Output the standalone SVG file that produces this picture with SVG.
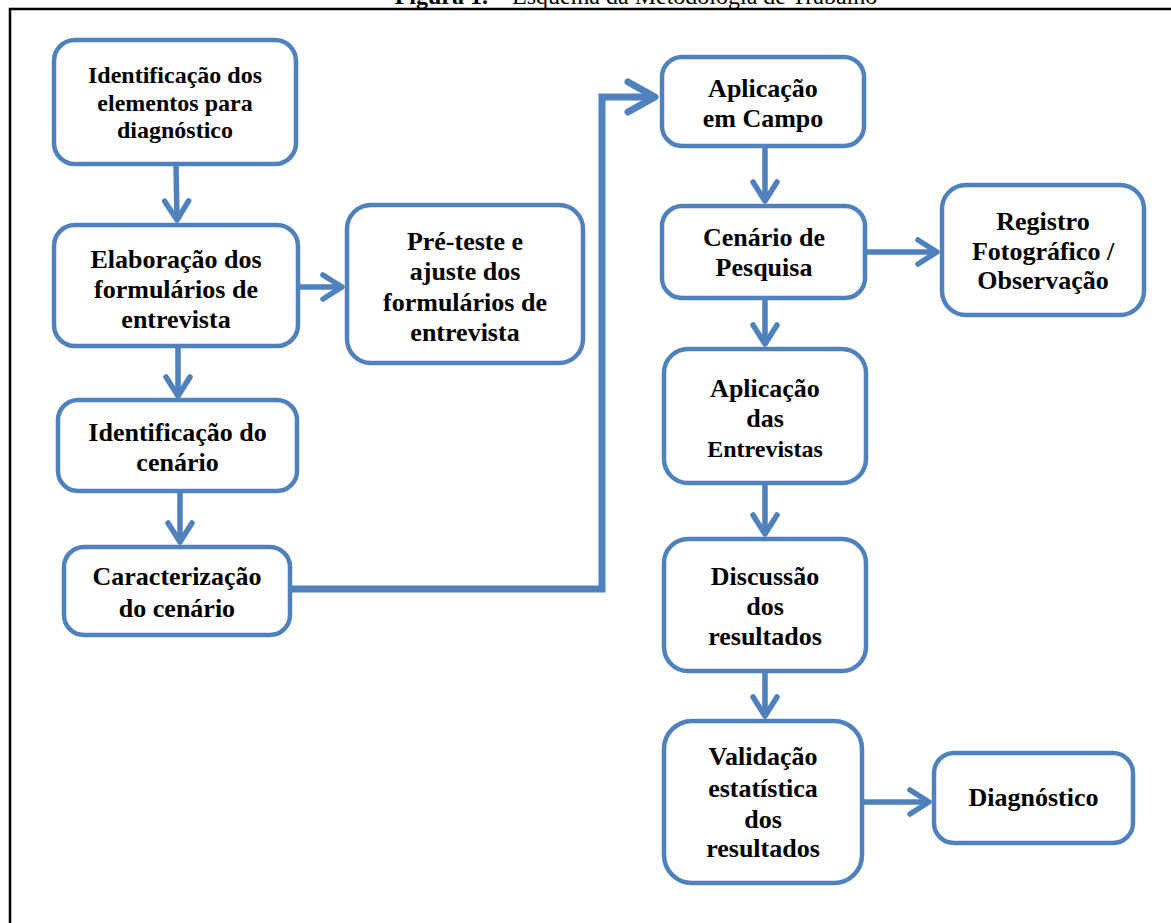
<svg xmlns="http://www.w3.org/2000/svg" width="1171" height="923" viewBox="0 0 1171 923">
<defs>
<style>
.box{fill:#fff;stroke:#4F81BD;stroke-width:4.5}
.t{font-family:"Liberation Serif","Times New Roman",serif;font-weight:bold;font-size:26px;fill:#000;text-anchor:middle}
.s{font-size:24px}
.c{fill:none;stroke:#4F81BD;stroke-width:5.5}
.cl{fill:none;stroke:#4F81BD;stroke-width:7}
</style>
<marker id="ah" markerUnits="userSpaceOnUse" markerWidth="40" markerHeight="40" viewBox="-30 -20 40 40" refX="0" refY="0" orient="auto" overflow="visible">
<path d="M-19,-12 L0,0 L-19,12" fill="none" stroke="#4F81BD" stroke-width="5.5" stroke-linecap="round" stroke-linejoin="round"/>
</marker>
<marker id="ahl" markerUnits="userSpaceOnUse" markerWidth="50" markerHeight="50" viewBox="-40 -25 50 50" refX="0" refY="0" orient="auto" overflow="visible">
<path d="M-27,-15 L0,0 L-27,15" fill="none" stroke="#4F81BD" stroke-width="7" stroke-linecap="round" stroke-linejoin="round"/>
</marker>
</defs>
<rect width="1171" height="923" fill="#fff"/>
<text x="636" y="4" font-family="Liberation Serif, serif" font-size="24" text-anchor="middle" fill="#000"><tspan font-weight="bold">Figura 1.</tspan> – Esquema da Metodologia de Trabalho</text>
<path d="M10,923 V9 H1171" fill="none" stroke="#000" stroke-width="2.5"/>
<g id="connectors">
<line class="c" x1="176" y1="166" x2="177" y2="220" marker-end="url(#ah)"/>
<line class="c" x1="178" y1="348" x2="178" y2="396" marker-end="url(#ah)"/>
<line class="c" x1="180" y1="493" x2="180" y2="542" marker-end="url(#ah)"/>
<line class="c" x1="300" y1="287" x2="342" y2="287" marker-end="url(#ah)"/>
<path class="cl" d="M292,589 H602 V97 H655" marker-end="url(#ahl)"/>
<line class="c" x1="765" y1="148" x2="765" y2="201" marker-end="url(#ah)"/>
<line class="c" x1="866" y1="252" x2="937" y2="252" marker-end="url(#ah)"/>
<line class="c" x1="765" y1="300" x2="765" y2="344" marker-end="url(#ah)"/>
<line class="c" x1="765" y1="485" x2="765" y2="534" marker-end="url(#ah)"/>
<line class="c" x1="765" y1="673" x2="765" y2="716" marker-end="url(#ah)"/>
<line class="c" x1="864" y1="802" x2="929" y2="802" marker-end="url(#ah)"/>
</g>
<g id="n1"><rect class="box" x="54" y="40" width="242" height="124" rx="21"/>
<text class="t s" x="175" y="83">Identificação dos</text><text class="t s" x="175" y="111">elementos para</text><text class="t s" x="175" y="138">diagnóstico</text></g>
<g id="n2"><rect class="box" x="54" y="225" width="244" height="121" rx="21"/>
<text class="t" x="176" y="268">Elaboração dos</text><text class="t" x="176" y="298">formulários de</text><text class="t" x="176" y="328">entrevista</text></g>
<g id="n3"><rect class="box" x="58" y="400" width="239" height="91" rx="20"/>
<text class="t" x="177.5" y="441">Identificação do</text><text class="t" x="177.5" y="471">cenário</text></g>
<g id="n4"><rect class="box" x="64" y="547" width="226" height="88" rx="20"/>
<text class="t" x="177" y="585">Caracterização</text><text class="t" x="177" y="617">do cenário</text></g>
<g id="n5"><rect class="box" x="347" y="205" width="236" height="158" rx="24"/>
<text class="t" x="465" y="250">Pré-teste e</text><text class="t" x="465" y="280">ajuste dos</text><text class="t" x="465" y="311">formulários de</text><text class="t" x="465" y="341">entrevista</text></g>
<g id="n6"><rect class="box" x="662" y="57" width="202" height="89" rx="20"/>
<text class="t" x="763" y="97">Aplicação</text><text class="t" x="763" y="127">em Campo</text></g>
<g id="n7"><rect class="box" x="662" y="206" width="203" height="92" rx="20"/>
<text class="t" x="764" y="246">Cenário de</text><text class="t" x="764" y="276">Pesquisa</text></g>
<g id="n12"><rect class="box" x="942" y="185" width="202" height="130" rx="24"/>
<text class="t" x="1043" y="230">Registro</text><text class="t" x="1043" y="260">Fotográfico /</text><text class="t" x="1043" y="289">Observação</text></g>
<g id="n8"><rect class="box" x="664" y="349" width="202" height="134" rx="24"/>
<text class="t" x="765" y="397">Aplicação</text><text class="t" x="765" y="427">das</text><text class="t s" x="765" y="457">Entrevistas</text></g>
<g id="n9"><rect class="box" x="664" y="539" width="202" height="132" rx="24"/>
<text class="t" x="765" y="585">Discussão</text><text class="t" x="765" y="615">dos</text><text class="t" x="765" y="645">resultados</text></g>
<g id="n10"><rect class="box" x="664" y="721" width="198" height="162" rx="28"/>
<text class="t" x="763" y="765">Validação</text><text class="t" x="763" y="797">estatística</text><text class="t" x="763" y="828">dos</text><text class="t" x="763" y="857">resultados</text></g>
<g id="n11"><rect class="box" x="934" y="753" width="199" height="90" rx="20"/>
<text class="t" x="1033.5" y="806">Diagnóstico</text></g>
</svg>
